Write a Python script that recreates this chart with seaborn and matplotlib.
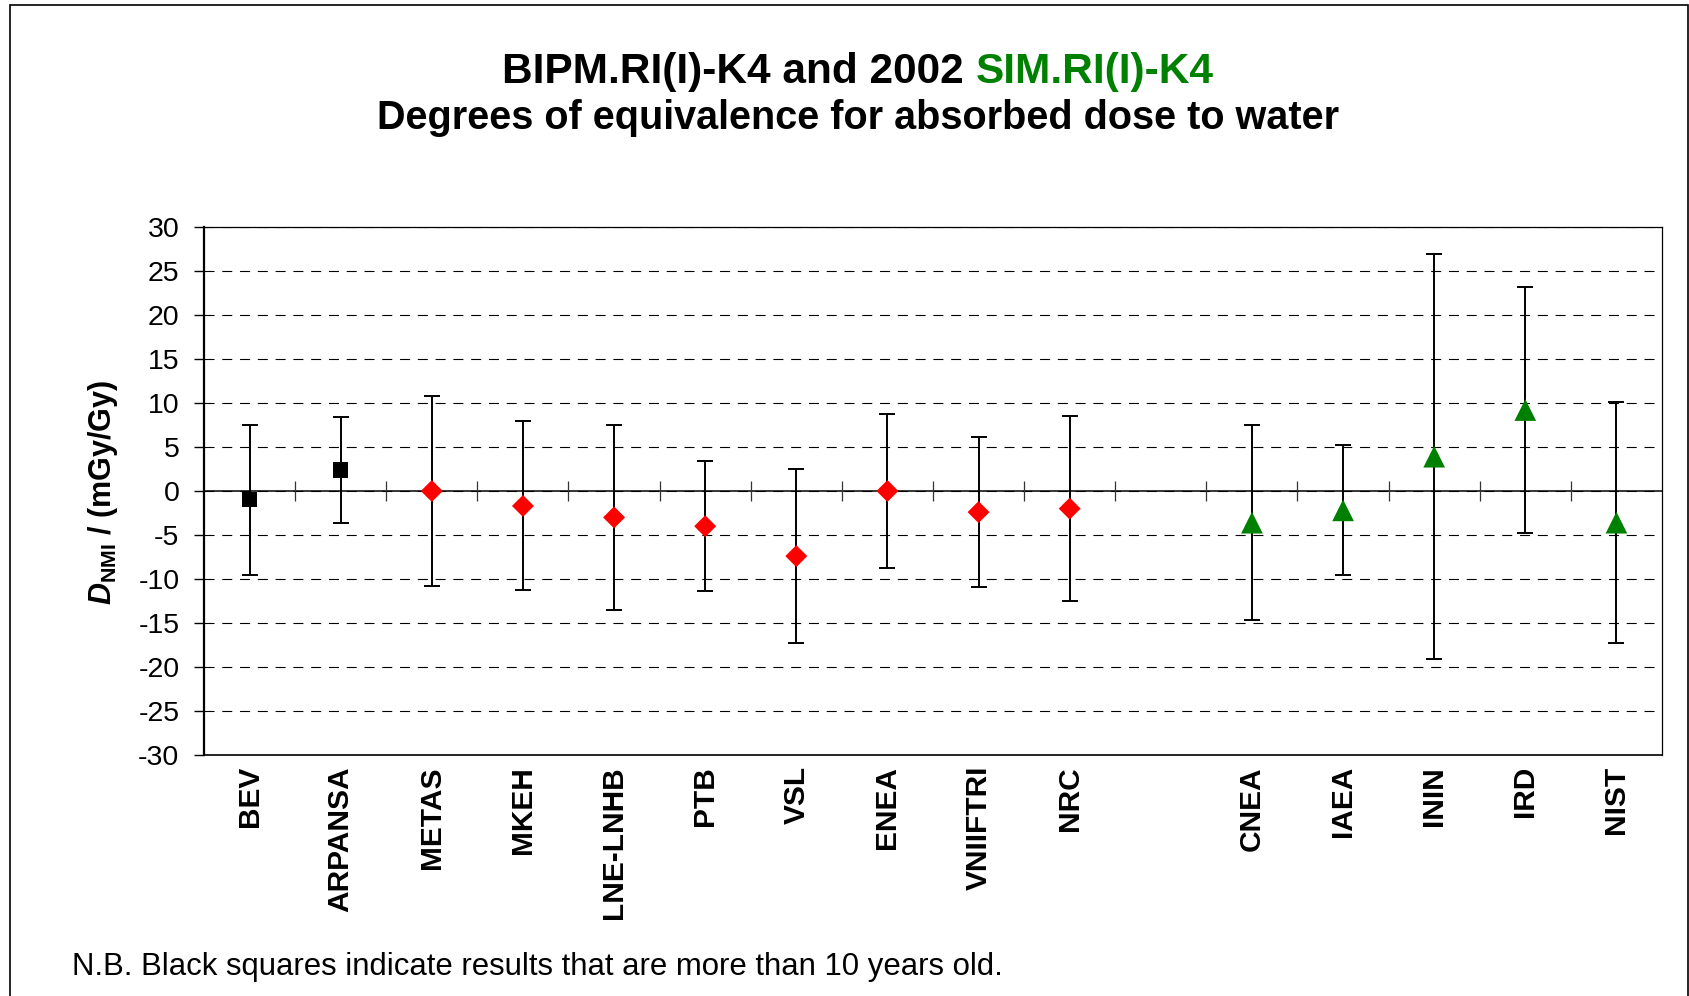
import numpy as np
import pandas as pd
import matplotlib
matplotlib.use("Agg")
import matplotlib.pyplot as plt
import seaborn as sns
from matplotlib.patches import Rectangle

# ---------- Data ---------- #

# category slots, with one empty slot between the K4 labs and the SIM labs
slots = ["BEV", "ARPANSA", "METAS", "MKEH", "LNE-LNHB", "PTB", "VSL", "ENEA",
         "VNIIFTRI", "NRC", "", "CNEA", "IAEA", "ININ", "IRD", "NIST"]

labs = ["BEV", "ARPANSA", "METAS", "MKEH", "LNE-LNHB", "PTB", "VSL", "ENEA",
        "VNIIFTRI", "NRC", "CNEA", "IAEA", "ININ", "IRD", "NIST"]
dValue = [-1.0, 2.4, 0.0, -1.7, -3.0, -4.0, -7.4, 0.0,
          -2.4, -2.0, -3.6, -2.2, 3.9, 9.2, -3.6]
uValue = [8.5, 6.0, 10.8, 9.6, 10.5, 7.4, 9.9, 8.7,
          8.5, 10.5, 11.1, 7.4, 23.0, 14.0, 13.7]
group = ["old", "old", "K4", "K4", "K4", "K4", "K4", "K4",
         "K4", "K4", "SIM", "SIM", "SIM", "SIM", "SIM"]

yTicks = [-30, -25, -20, -15, -10, -5, 0, 5, 10, 15, 20, 25, 30]

df = pd.DataFrame({"lab": labs, "D": dValue, "U": uValue, "group": group})
df["x"] = [slots.index(l) + 1 for l in df["lab"]]

# ---------- Style ---------- #

sns.set_theme(style="white")
plt.rcParams["font.family"] = ["Liberation Sans", "DejaVu Sans"]
plt.rcParams["text.color"] = "black"
plt.rcParams["axes.labelcolor"] = "black"
plt.rcParams["xtick.color"] = "black"
plt.rcParams["ytick.color"] = "black"
plt.rcParams["mathtext.fontset"] = "custom"
plt.rcParams["mathtext.it"] = "Liberation Sans:italic:bold"
plt.rcParams["mathtext.rm"] = "Liberation Sans:bold"
plt.rcParams["mathtext.bf"] = "Liberation Sans:bold"

colors = {"old": "black", "K4": "#FF0000", "SIM": "#008000"}
markers = {"old": "s", "K4": "D", "SIM": "^"}
sizes = {"old": 121, "K4": 125, "SIM": 244}

# ---------- Plot ---------- #

fig = plt.figure(figsize=(16.9, 9.96), dpi=100)
ax = fig.add_axes([204 / 1690, 1 - 755 / 996, 1458 / 1690, 528 / 996])

ax.grid(axis="y", color="black", linewidth=0.8, linestyle=(0, (9, 7)))
ax.set_axisbelow(True)
ax.axhline(0, color="black", linewidth=1.1, zorder=2)
# cross tick marks on the zero line, at the category boundaries
ax.vlines(np.arange(1.5, len(slots)), -1.1, 1.1, color="#333333", linewidth=0.9, zorder=2)

ax.errorbar(df["x"], df["D"], yerr=df["U"], fmt="none", ecolor="black",
            elinewidth=1.4, capsize=6, capthick=1.4, zorder=3)

sns.scatterplot(data=df, x="x", y="D", hue="group", style="group", size="group",
                palette=colors, markers=markers, sizes=sizes, linewidth=0,
                legend=False, zorder=4, ax=ax)

ax.set_xlim(0.5, len(slots) + 0.5)
ax.set_ylim(-30, 30)
ax.set_yticks(yTicks)
ax.set_yticklabels([str(v) for v in yTicks], fontsize=20.5)
ax.set_xticks(np.arange(1, len(slots) + 1))
ax.set_xticklabels(slots, rotation=90, fontsize=21.5, fontweight="bold")
ax.tick_params(axis="y", direction="out", length=7.2, width=1.0, pad=10.5, left=True)
ax.tick_params(axis="x", length=0, pad=8)
ax.set_xlabel("")
ax.set_ylabel("")

for side in ["top", "right", "bottom", "left"]:
    ax.spines[side].set_color("black")
ax.spines["left"].set_linewidth(1.6)
ax.spines["bottom"].set_linewidth(1.2)
ax.spines["top"].set_linewidth(0.9)
ax.spines["right"].set_linewidth(0.9)

fig.text(103 / 1690, 1 - 492 / 996, r"$\mathit{D}_{\mathrm{NMI}}$ / (mGy/Gy)",
         rotation=90, ha="center", va="center", fontsize=22, fontweight="bold",
         color="black")

# two-colour title
renderer = fig.canvas.get_renderer()
tA = fig.text(0, 1 - 83 / 996, "BIPM.RI(I)-K4 and 2002 ", fontsize=30.5,
              fontweight="bold", color="black", va="baseline")
tB = fig.text(0, 1 - 83 / 996, "SIM.RI(I)-K4", fontsize=30.5,
              fontweight="bold", color="#008000", va="baseline")
wA = tA.get_window_extent(renderer).width / 1690
wB = tB.get_window_extent(renderer).width / 1690
x0 = 858 / 1690 - (wA + wB) / 2
tA.set_x(x0)
tB.set_x(x0 + wA)

fig.text(858 / 1690, 1 - 129 / 996, "Degrees of equivalence for absorbed dose to water",
         fontsize=28.5, fontweight="bold", ha="center", va="baseline", color="black")

fig.text(72 / 1690, 1 - 975 / 996,
         "N.B. Black squares indicate results that are more than 10 years old.",
         fontsize=22.4, va="baseline", color="black")

# chart border
fig.patches.append(Rectangle((10 / 1690, -0.01), 1678 / 1690, 1.01 - 5 / 996,
                             transform=fig.transFigure, fill=False,
                             edgecolor="black", linewidth=1.2))

fig.savefig("out.png", dpi=100)
plt.close()
